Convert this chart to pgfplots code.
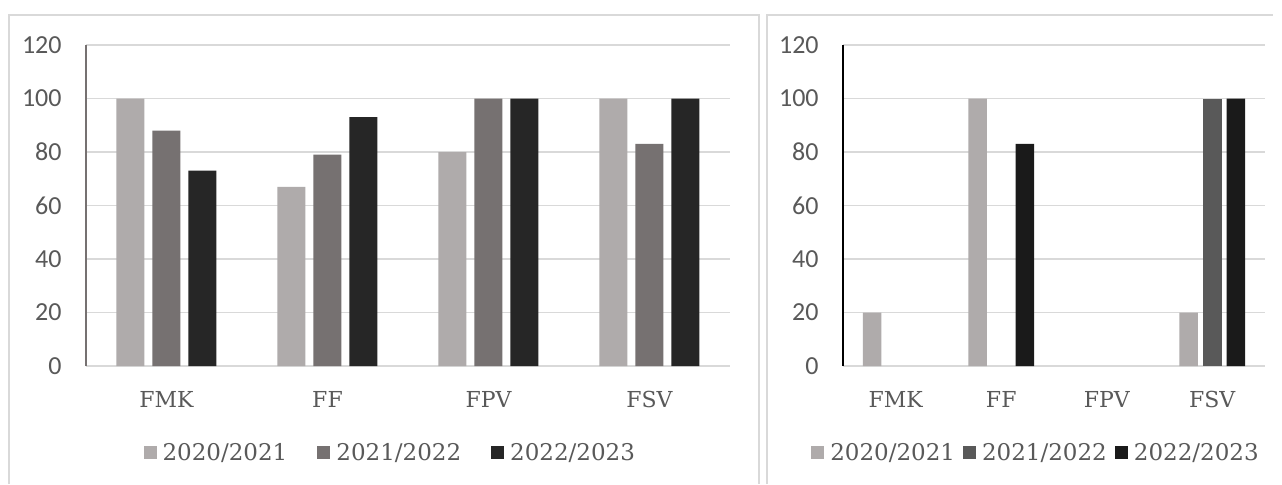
\documentclass[border=0pt]{standalone}
\usepackage{pgfplots}
\pgfplotsset{compat=1.18}
\usepackage{fontspec}
\newfontfamily\numfont{Carlito}
\newfontfamily\serfont{DejaVu Serif}
\definecolor{gridgray}{HTML}{D9D9D9}
\definecolor{txtgray}{HTML}{595959}
\definecolor{cA}{HTML}{AFABAB}
\definecolor{cB}{HTML}{767171}
\definecolor{cC}{HTML}{262626}
\definecolor{dB}{HTML}{595959}
\definecolor{dC}{HTML}{1A1A1A}

% left panel data (percent)
\pgfplotstableread{
x a b c
0 100 88 73
1 67 79 93
2 80 100 100
3 100 83 100
}\lefttab

\pgfplotsset{
  panel/.style={
    scale only axis,
    anchor=south west,
    height=160.5pt,
    ymin=0, ymax=120,
    xmin=-0.5, xmax=3.5,
    xtick={0,1,2,3},
    xticklabels={FMK,FF,FPV,FSV},
    ytick={0,20,...,120},
    yticklabel={\numfont\fontsize{13pt}{15pt}\selectfont\pgfmathprintnumber[assume math mode=true]{\tick}},
    ymajorgrids,
    grid style={draw=gridgray, line width=0.75pt},
    axis lines*=left,
    axis line style={-},
    x axis line style={draw=gridgray, line width=0.75pt},
    major tick length=0pt,
    tick style={draw=none},
    yticklabel style={text=txtgray, anchor=east, inner sep=0pt, xshift=-12pt},
    xticklabel style={font=\serfont\fontsize{11pt}{13pt}\selectfont, text=txtgray, anchor=center, inner sep=0pt, yshift=-16.5pt},
    legend columns=3,
    legend style={draw=none, fill=none, anchor=center,
      font=\serfont\fontsize{11.5pt}{13pt}\selectfont, text=txtgray,
      nodes={inner sep=0pt},
      /tikz/every odd column/.append style={column sep=3pt}},
  },
  sqlegend/.style={
    legend image code/.code={\fill[##1] (0pt,-3.25pt) rectangle (6.5pt,3.25pt);},
  },
}

\begin{document}
\begin{tikzpicture}
\useasboundingbox (0,0) rectangle (641pt,242pt);
\fill[white] (0,0) rectangle (641pt,242pt);
\draw[gridgray, line width=0.9pt] (4.5pt,0) -- (4.5pt,234.5pt) -- (379.5pt,234.5pt) -- (379.5pt,0);
\draw[gridgray, line width=0.9pt] (383.5pt,0) -- (383.5pt,234.5pt) -- (636.5pt,234.5pt);

\begin{axis}[panel,
  at={(43pt,59pt)}, width=322pt,
  y axis line style={draw=cB, line width=0.6pt},
  ybar=4pt, bar width=14pt, sqlegend,
  legend style={at={(0.471,-0.271)}, /tikz/every even column/.append style={column sep=15pt}},
]
\addplot[fill=cA, draw=none] table[x=x, y=a] {\lefttab};
\addlegendentry{2020/2021}
\addplot[fill=cB, draw=none] table[x=x, y=b] {\lefttab};
\addlegendentry{2021/2022}
\addplot[fill=cC, draw=none] table[x=x, y=c] {\lefttab};
\addlegendentry{2022/2023}
\end{axis}

\begin{axis}[panel,
  at={(421.5pt,59pt)}, width=211pt,
  y axis line style={draw=black, line width=0.8pt},
  ybar=2.55pt, bar width=9.25pt, sqlegend,
  legend style={at={(0.455,-0.271)}, /tikz/every even column/.append style={column sep=4pt}},
]
% zero values are left out
\addplot[fill=cA, draw=none] coordinates {(0,20) (1,100) (3,20)};
\addlegendentry{2020/2021}
\addplot[fill=dB, draw=none] coordinates {(3,100)};
\addlegendentry{2021/2022}
\addplot[fill=dC, draw=none] coordinates {(1,83) (3,100)};
\addlegendentry{2022/2023}
\end{axis}
\end{tikzpicture}
\end{document}
